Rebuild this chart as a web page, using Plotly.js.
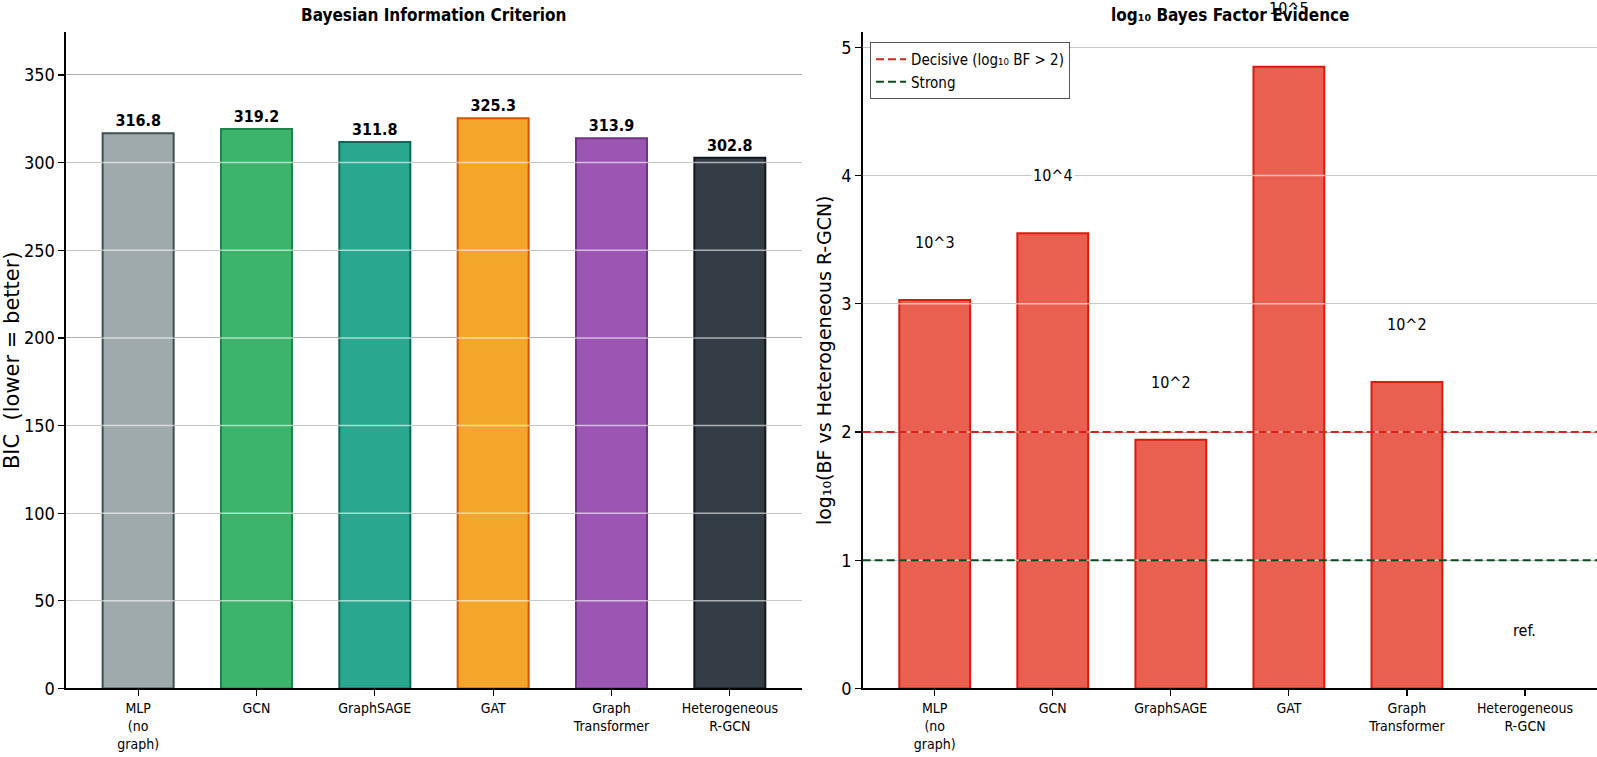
<!DOCTYPE html>
<html>
<head>
<meta charset="utf-8">
<script src="https://cdn.plot.ly/plotly-3.0.1.min.js"></script>
<style>
  html, body { margin: 0; padding: 0; background: #fff; }
  #chart { width: 1597px; height: 757px; }
</style>
</head>
<body>
<div id="chart"></div>
<script>
// --- data ---
const models = ['MLP<br>(no<br>graph)', 'GCN', 'GraphSAGE', 'GAT', 'Graph<br>Transformer', 'Heterogeneous<br>R-GCN'];
const bicValues = [316.8, 319.2, 311.8, 325.3, 313.9, 302.8];
const bicFill = ['#9eaaab', '#3cb46b', '#2aa88f', '#f4a62a', '#9b56b4', '#343c45'];
const bicEdge = ['#3d5050', '#1e8449', '#0e6655', '#d35400', '#6c3483', '#111820'];
const bfLog10 = [3.03, 3.55, 1.94, 4.85, 2.39, 0];
const bfLabels = ['10^3', '10^4', '10^2', '10^5', '10^2', 'ref.'];
const bicTicks = [0, 50, 100, 150, 200, 250, 300, 350];
const bfTicks = [0, 1, 2, 3, 4, 5];
const DECISIVE = 2;
const STRONG = 1;
const BIC_MAX = 374.5;
const BF_MAX = 5.12;
const LABEL_PAD = 0.45;

const FONT = 'DejaVu Sans Condensed, DejaVu Sans, sans-serif';
const FONT_WIDE = 'DejaVu Sans, sans-serif';
const idx = models.map((_, i) => i);

const bicTrace = {
    type: 'bar',
    x: idx,
    y: bicValues,
    width: 0.6,
    marker: { color: bicFill, line: { color: bicEdge, width: 2 } },
    text: bicValues.map(v => '<b>' + v.toFixed(1) + '</b>'),
    textposition: 'outside',
    textfont: { family: FONT, size: 16, color: '#000' },
    cliponaxis: false,
    hoverinfo: 'skip',
    showlegend: false,
    xaxis: 'x',
    yaxis: 'y',
};

const bfTrace = {
    type: 'bar',
    x: idx,
    y: bfLog10,
    width: 0.6,
    marker: { color: '#e95f50', line: { color: '#dd1a0e', width: bfLog10.map(v => v > 0 ? 2 : 0) } },
    hoverinfo: 'skip',
    showlegend: false,
    xaxis: 'x2',
    yaxis: 'y2',
};

// legend-only entries for the threshold lines (the lines themselves are shapes)
const decisiveKey = {
    type: 'scatter', mode: 'lines', x: [null], y: [null],
    name: 'Decisive (log₁₀ BF > 2)',
    line: { color: '#d62418', width: 2, dash: '8px,4px' },
    xaxis: 'x2', yaxis: 'y2',
};
const strongKey = {
    type: 'scatter', mode: 'lines', x: [null], y: [null],
    name: 'Strong',
    line: { color: '#0b4a1c', width: 2, dash: '8px,4px' },
    xaxis: 'x2', yaxis: 'y2',
};

const axisCommon = {
    showline: true,
    linecolor: '#000',
    linewidth: 1.5,
    ticks: 'outside',
    ticklen: 6,
    tickwidth: 1.2,
    tickcolor: '#000',
    zeroline: false,
    automargin: false,
};

const shapes = [];
// light grid overlay drawn on top of the bars, like the reference
bicTicks.slice(1).forEach(t => shapes.push({
    type: 'line', xref: 'x domain', yref: 'y', x0: 0, x1: 1, y0: t, y1: t,
    line: { color: 'rgba(255,255,255,0.6)', width: 1.5 }, layer: 'above',
}));
bfTicks.slice(1).forEach(t => shapes.push({
    type: 'line', xref: 'x2 domain', yref: 'y2', x0: 0, x1: 1, y0: t, y1: t,
    line: { color: 'rgba(255,255,255,0.6)', width: 1.5 }, layer: 'above',
}));
shapes.push({
    type: 'line', xref: 'x2 domain', yref: 'y2', x0: 0, x1: 1, y0: DECISIVE, y1: DECISIVE,
    line: { color: '#d62418', width: 2, dash: '8px,4px' }, layer: 'above',
});
shapes.push({
    type: 'line', xref: 'x2 domain', yref: 'y2', x0: 0, x1: 1, y0: STRONG, y1: STRONG,
    line: { color: '#0b4a1c', width: 2, dash: '8px,4px' }, layer: 'above',
});

const annotations = [];
// evidence labels (domain-relative y so the one above the axis top still shows)
bfLabels.forEach((s, i) => annotations.push({
    xref: 'x2', yref: 'y2 domain', x: i, y: (bfLog10[i] + LABEL_PAD) / BF_MAX,
    yanchor: 'middle', xanchor: 'center',
    text: s, showarrow: false,
    font: { family: FONT, size: 16, color: '#000' },
    bgcolor: s === '10^4' ? '#fff' : 'rgba(0,0,0,0)',
    borderpad: 1,
}));
annotations.push({
    xref: 'x domain', yref: 'paper', x: 0.5, y: 1, yanchor: 'top', yshift: -3,
    text: '<b>Bayesian Information Criterion</b>', showarrow: false,
    font: { family: FONT, size: 17, color: '#000' },
});
annotations.push({
    xref: 'x2 domain', yref: 'paper', x: 0.5, y: 1, yanchor: 'top', yshift: -3,
    text: '<b>log₁₀ Bayes Factor Evidence</b>', showarrow: false,
    font: { family: FONT, size: 17, color: '#000' },
});

const layout = {
    width: 1597,
    height: 757,
    margin: { l: 0, r: 0, t: 0, b: 0 },
    paper_bgcolor: '#fff',
    plot_bgcolor: '#fff',
    font: { family: FONT, size: 16, color: '#000' },
    showlegend: true,
    legend: {
        x: 0.5448, y: 0.9445, xanchor: 'left', yanchor: 'top',
        bgcolor: 'rgba(255,255,255,0.9)', bordercolor: '#555', borderwidth: 1,
        font: { family: FONT, size: 15, color: '#000' },
        tracegroupgap: 0,
    },
    bargap: 0,
    xaxis: Object.assign({}, axisCommon, {
        domain: [0.0413, 0.5022], range: [-0.61, 5.61],
        tickvals: idx, ticktext: models, showgrid: false,
        tickfont: { family: FONT, size: 14 },
    }),
    yaxis: Object.assign({}, axisCommon, {
        domain: [0.0905, 0.9577], range: [0, BIC_MAX],
        tickvals: bicTicks, showgrid: true, gridcolor: '#707070', gridwidth: 1,
        tickfont: { family: FONT, size: 18 },
        title: { text: 'BIC  (lower = better)', font: { family: FONT_WIDE, size: 21 }, standoff: 4 },
    }),
    xaxis2: Object.assign({}, axisCommon, {
        domain: [0.5402, 1.0], range: [-0.61, 5.61], anchor: 'y2',
        tickvals: idx, ticktext: models, showgrid: false,
        tickfont: { family: FONT, size: 14 },
    }),
    yaxis2: Object.assign({}, axisCommon, {
        domain: [0.0905, 0.9577], range: [0, BF_MAX], anchor: 'x2',
        tickvals: bfTicks, showgrid: true, gridcolor: '#707070', gridwidth: 1,
        tickfont: { family: FONT, size: 18 },
        title: { text: 'log₁₀(BF vs Heterogeneous R-GCN)', font: { family: FONT_WIDE, size: 19 }, standoff: 4 },
    }),
    shapes: shapes,
    annotations: annotations,
};

Plotly.newPlot('chart', [bicTrace, bfTrace, decisiveKey, strongKey], layout,
    { displayModeBar: false, staticPlot: true });
</script>
</body>
</html>
